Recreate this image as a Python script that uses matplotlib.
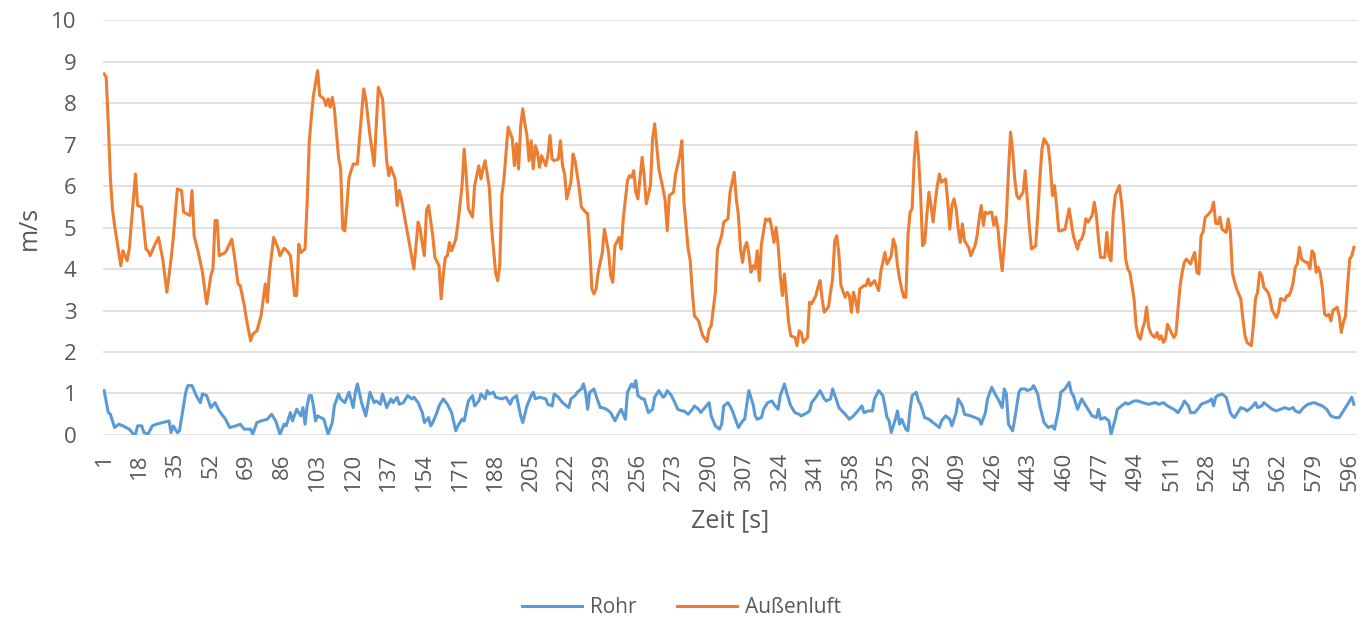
import matplotlib.pyplot as plt

# Zeitreihen (Zeit in s, Geschwindigkeit in m/s)
rohr_t = [1, 3, 4, 6, 8, 10, 13, 15, 16, 17, 19, 20, 22, 24, 26, 29, 32, 33, 34, 36, 37, 40, 41, 43, 45, 47, 48, 50,
          52, 54, 56, 59, 61, 64, 66, 68, 71, 72, 74, 76, 79, 81, 83, 85, 87, 88, 90, 91, 93, 95, 96, 97, 98, 99,
          100, 101, 102, 103, 106, 108, 110, 111, 113, 114, 116, 118, 120, 121, 122, 124, 126, 128, 130, 131, 133,
          134, 136, 138, 139, 141, 142, 144, 146, 148, 149, 151, 153, 154, 156, 157, 158, 160, 161, 163, 165, 167,
          169, 170, 172, 173, 175, 177, 178, 180, 181, 183, 184, 185, 187, 188, 191, 193, 195, 196, 198, 199, 200,
          201, 203, 205, 206, 207, 209, 212, 213, 215, 216, 218, 220, 221, 223, 224, 226, 227, 229, 230, 231, 232,
          233, 235, 236, 238, 239, 241, 243, 245, 247, 248, 250, 251, 253, 254, 255, 256, 258, 259, 261, 263, 264,
          266, 268, 269, 270, 272, 274, 275, 277, 278, 280, 282, 283, 285, 286, 288, 290, 291, 293, 295, 296, 297,
          299, 300, 301, 302, 304, 306, 307, 308, 309, 311, 312, 313, 315, 316, 318, 320, 321, 323, 324, 326, 327,
          329, 331, 333, 334, 337, 338, 339, 341, 343, 345, 346, 348, 349, 351, 352, 355, 357, 359, 361, 363, 364,
          366, 368, 369, 371, 373, 374, 375, 376, 377, 379, 380, 381, 382, 384, 385, 386, 387, 389, 390, 391, 393,
          395, 397, 398, 400, 401, 403, 405, 406, 408, 409, 411, 412, 415, 417, 419, 420, 422, 423, 425, 427, 428,
          430, 431, 432, 433, 435, 436, 438, 439, 441, 442, 444, 445, 447, 448, 450, 452, 454, 455, 457, 458, 460,
          462, 463, 464, 466, 468, 469, 471, 473, 475, 476, 477, 479, 481, 482, 484, 485, 487, 489, 490, 493, 495,
          497, 500, 503, 505, 507, 509, 512, 514, 516, 517, 519, 520, 522, 524, 525, 527, 529, 530, 531, 532, 533,
          535, 537, 538, 539, 540, 541, 543, 544, 546, 547, 549, 551, 552, 554, 555, 557, 559, 561, 563, 565, 567,
          569, 570, 572, 574, 576, 579, 581, 583, 585, 587, 589, 591, 593, 595, 597, 598]
rohr_v = [1.07, 0.54, 0.5, 0.18, 0.26, 0.22, 0.14, 0.02, 0.02, 0.22, 0.22, 0.06, 0.02, 0.22, 0.26, 0.30, 0.34, 0.06,
          0.22, 0.06, 0.10, 1.03, 1.19, 1.19, 0.95, 0.78, 0.99, 0.95, 0.66, 0.78, 0.58, 0.38, 0.18, 0.22, 0.26, 0.14,
          0.14, 0.02, 0.30, 0.34, 0.38, 0.50, 0.34, 0.02, 0.26, 0.22, 0.54, 0.34, 0.62, 0.46, 0.66, 0.26, 0.70, 0.95,
          0.95, 0.70, 0.34, 0.46, 0.38, 0.02, 0.30, 0.70, 0.99, 0.87, 0.78, 1.03, 0.66, 1.03, 1.23, 0.78, 0.46, 1.03,
          0.78, 0.82, 0.74, 0.99, 0.66, 0.87, 0.78, 0.91, 0.74, 0.78, 0.95, 0.87, 0.91, 0.78, 0.54, 0.30, 0.42, 0.22,
          0.30, 0.54, 0.70, 0.87, 0.74, 0.54, 0.10, 0.22, 0.38, 0.34, 0.82, 0.95, 0.70, 0.82, 0.99, 0.87, 1.07, 0.99,
          1.03, 0.91, 0.87, 0.91, 0.74, 0.87, 0.95, 0.70, 0.46, 0.30, 0.70, 0.95, 1.03, 0.87, 0.91, 0.87, 0.74, 0.70,
          0.99, 0.91, 0.78, 0.74, 0.66, 0.87, 0.95, 1.03, 1.11, 1.23, 1.03, 0.62, 1.03, 1.11, 0.95, 0.66, 0.66, 0.62,
          0.54, 0.34, 0.54, 0.62, 0.38, 1.03, 1.23, 1.15, 1.31, 0.95, 0.87, 0.87, 0.54, 0.62, 0.91, 1.07, 0.91, 0.95,
          1.07, 0.95, 0.74, 0.62, 0.58, 0.58, 0.50, 0.62, 0.70, 0.62, 0.54, 0.66, 0.78, 0.46, 0.22, 0.14, 0.26, 0.70,
          0.78, 0.70, 0.60, 0.46, 0.18, 0.34, 0.38, 0.74, 1.07, 0.74, 0.46, 0.38, 0.42, 0.62, 0.78, 0.82, 0.74, 0.62,
          0.95, 1.23, 1.03, 0.70, 0.54, 0.50, 0.46, 0.54, 0.58, 0.78, 0.91, 1.07, 0.87, 0.82, 0.87, 1.11, 0.82, 0.66,
          0.50, 0.38, 0.46, 0.58, 0.70, 0.54, 0.58, 0.58, 0.87, 1.07, 0.95, 0.70, 0.42, 0.34, 0.06, 0.38, 0.58, 0.26,
          0.38, 0.14, 0.10, 0.62, 0.95, 1.03, 0.82, 0.74, 0.42, 0.38, 0.30, 0.26, 0.18, 0.34, 0.46, 0.38, 0.22, 0.54,
          0.87, 0.70, 0.50, 0.46, 0.42, 0.38, 0.26, 0.54, 0.87, 1.15, 0.95, 0.87, 0.66, 1.11, 0.99, 0.26, 0.10, 0.38,
          1.03, 1.11, 1.11, 1.07, 1.11, 1.19, 0.99, 0.70, 0.30, 0.18, 0.22, 0.14, 0.62, 1.03, 1.11, 1.27, 1.03, 0.95,
          0.62, 0.87, 0.78, 0.62, 0.46, 0.42, 0.62, 0.38, 0.42, 0.34, 0.02, 0.38, 0.62, 0.70, 0.78, 0.74, 0.82, 0.82,
          0.78, 0.74, 0.78, 0.74, 0.78, 0.70, 0.62, 0.54, 0.70, 0.82, 0.70, 0.54, 0.54, 0.66, 0.74, 0.78, 0.82, 0.87,
          0.70, 0.91, 0.95, 0.99, 0.91, 0.74, 0.54, 0.46, 0.42, 0.58, 0.66, 0.62, 0.58, 0.66, 0.78, 0.66, 0.70, 0.78,
          0.70, 0.62, 0.58, 0.62, 0.66, 0.62, 0.66, 0.58, 0.54, 0.66, 0.74, 0.78, 0.74, 0.70, 0.62, 0.46, 0.42, 0.42,
          0.58, 0.74, 0.91, 0.74]

aussen_t = [1, 2, 3, 4, 5, 6, 9, 10, 12, 13, 16, 17, 19, 21, 22, 23, 25, 27, 29, 31, 33, 34, 36, 38, 39, 42, 43, 44,
            46, 48, 50, 52, 53, 54, 55, 56, 59, 62, 63, 65, 66, 68, 69, 71, 72, 74, 76, 78, 79, 80, 82, 84, 85, 87,
            89, 90, 92, 93, 94, 95, 97, 98, 99, 100, 101, 103, 104, 106, 107, 108, 109, 110, 111, 113, 114, 115, 116,
            118, 120, 122, 125, 126, 128, 130, 131, 132, 134, 136, 137, 138, 140, 141, 142, 143, 145, 147, 149, 151,
            152, 153, 154, 155, 156, 158, 159, 161, 162, 163, 164, 165, 166, 167, 169, 170, 172, 173, 174, 175, 177,
            178, 180, 181, 182, 183, 185, 186, 188, 189, 190, 191, 192, 194, 196, 197, 198, 199, 200, 201, 202, 203,
            204, 205, 206, 207, 208, 209, 210, 212, 213, 214, 215, 216, 218, 219, 220, 221, 222, 224, 225, 226, 228,
            229, 231, 232, 233, 234, 235, 236, 237, 239, 240, 242, 243, 244, 245, 247, 248, 249, 251, 252, 253, 254,
            255, 256, 258, 259, 260, 262, 263, 264, 265, 266, 268, 269, 270, 271, 273, 274, 276, 277, 278, 280, 281,
            282, 283, 285, 286, 287, 289, 290, 291, 293, 294, 296, 297, 299, 300, 302, 303, 304, 305, 306, 307, 308,
            309, 310, 311, 312, 313, 314, 315, 317, 318, 319, 320, 321, 322, 323, 324, 325, 326, 327, 328, 329, 331,
            332, 333, 334, 335, 337, 338, 339, 341, 342, 343, 344, 345, 347, 348, 349, 350, 351, 352, 353, 355, 356,
            357, 358, 359, 360, 361, 362, 364, 365, 366, 367, 369, 370, 371, 372, 373, 374, 375, 377, 378, 379, 380,
            381, 382, 383, 384, 385, 386, 387, 388, 389, 390, 391, 392, 393, 394, 395, 396, 397, 398, 399, 400, 401,
            402, 403, 404, 405, 406, 407, 408, 409, 410, 411, 412, 414, 415, 417, 418, 419, 420, 421, 422, 423, 424,
            425, 426, 427, 428, 429, 430, 432, 433, 434, 435, 436, 437, 438, 440, 441, 442, 443, 444, 446, 447, 448,
            449, 450, 452, 453, 454, 455, 456, 457, 458, 460, 462, 463, 464, 466, 467, 468, 469, 470, 471, 473, 474,
            475, 476, 477, 479, 480, 481, 482, 483, 484, 486, 487, 488, 489, 490, 491, 493, 494, 495, 496, 497, 498,
            499, 500, 501, 502, 503, 504, 505, 506, 507, 508, 509, 510, 512, 513, 514, 515, 516, 517, 518, 520, 521,
            522, 523, 524, 525, 526, 527, 528, 530, 531, 532, 533, 534, 535, 537, 538, 539, 540, 541, 542, 544, 545,
            546, 547, 549, 550, 551, 552, 553, 554, 555, 557, 558, 559, 561, 562, 563, 565, 566, 567, 568, 569, 570,
            571, 572, 573, 575, 576, 577, 578, 579, 580, 581, 582, 583, 584, 585, 586, 587, 588, 590, 591, 592, 593,
            594, 595, 596, 597, 598]
aussen_v = [8.70, 8.62, 7.5, 6.2, 5.45, 5.05, 4.08, 4.44, 4.2, 4.48, 6.29, 5.53, 5.49, 4.48, 4.44, 4.32, 4.56, 4.76,
            4.24, 3.44, 4.24, 4.72, 5.93, 5.89, 5.37, 5.29, 5.89, 4.80, 4.40, 3.92, 3.16, 3.84, 4.0, 5.17, 5.17, 4.32,
            4.40, 4.72, 4.40, 3.64, 3.60, 3.12, 2.79, 2.27, 2.43, 2.51, 2.88, 3.64, 3.20, 3.92, 4.76, 4.52, 4.32, 4.50,
            4.40, 4.32, 3.36, 3.36, 4.60, 4.40, 4.48, 5.6, 7.05, 7.66, 8.18, 8.78, 8.18, 8.1, 7.94, 8.1, 7.9, 8.14,
            7.86, 6.69, 6.41, 4.96, 4.92, 6.2, 6.53, 6.53, 8.34, 8.1, 7.22, 6.49, 7.46, 8.38, 8.10, 6.6, 6.25, 6.45,
            6.17, 5.53, 5.89, 5.69, 5.13, 4.56, 4.0, 5.13, 4.96, 4.6, 4.32, 5.41, 5.53, 4.8, 4.28, 4.08, 3.28, 3.84,
            4.28, 4.32, 4.64, 4.44, 4.72, 5.09, 6.01, 6.89, 6.25, 5.45, 5.25, 6.01, 6.49, 6.17, 6.41, 6.61, 5.97, 5.05,
            3.92, 3.72, 4.08, 5.77, 6.17, 7.42, 7.14, 6.49, 7.02, 6.41, 7.46, 7.86, 7.5, 7.22, 6.61, 7.09, 6.41, 6.97,
            6.81, 6.45, 6.73, 6.49, 6.73, 7.22, 6.65, 6.61, 6.65, 7.09, 6.49, 6.29, 5.69, 6.09, 6.77, 6.61, 5.93, 5.49,
            5.37, 5.33, 4.56, 3.52, 3.40, 3.52, 3.92, 4.40, 4.96, 4.40, 3.84, 3.68, 4.56, 4.76, 4.48, 5.21, 6.13, 6.25,
            6.21, 6.37, 5.85, 5.69, 6.69, 6.25, 5.57, 6.01, 7.14, 7.50, 6.97, 6.41, 5.93, 5.65, 4.92, 5.77, 5.85, 6.29,
            6.73, 7.09, 5.61, 4.48, 4.20, 3.44, 2.87, 2.75, 2.55, 2.39, 2.25, 2.55, 2.63, 3.44, 4.48, 4.80, 5.13, 5.21,
            5.85, 6.33, 5.69, 5.29, 4.48, 4.16, 4.52, 4.64, 4.36, 3.92, 4.08, 4.0, 4.44, 3.72, 4.60, 5.21, 5.17, 5.21,
            4.96, 4.64, 5.0, 4.56, 3.84, 3.36, 3.88, 3.28, 2.71, 2.39, 2.35, 2.15, 2.51, 2.47, 2.23, 2.35, 3.20, 3.16,
            3.36, 3.56, 3.72, 3.28, 2.96, 3.08, 3.44, 3.76, 4.68, 4.80, 4.36, 3.60, 3.32, 3.44, 3.36, 2.96, 3.44, 3.24,
            2.96, 3.52, 3.60, 3.60, 3.76, 3.60, 3.72, 3.60, 3.48, 3.92, 4.16, 4.40, 4.12, 4.32, 4.72, 4.56, 4.08, 3.76,
            3.52, 3.32, 3.32, 4.80, 5.37, 5.45, 6.65, 7.30, 6.73, 5.85, 4.56, 4.64, 5.29, 5.85, 5.53, 5.13, 5.61, 6.0,
            6.29, 6.09, 6.13, 6.17, 5.61, 4.96, 5.53, 5.69, 5.45, 4.96, 4.64, 5.09, 4.68, 4.52, 4.32, 4.56, 4.80, 5.21,
            5.53, 5.05, 5.37, 5.33, 5.37, 5.37, 5.05, 5.25, 4.96, 4.40, 3.96, 5.21, 6.33, 7.30, 6.85, 6.17, 5.77, 5.69,
            5.85, 6.37, 5.69, 5.0, 4.48, 4.56, 5.29, 6.17, 6.89, 7.14, 6.97, 6.49, 5.77, 6.01, 5.53, 4.92, 4.92, 4.96,
            5.45, 5.13, 4.80, 4.48, 4.68, 4.72, 4.88, 5.21, 5.13, 5.29, 5.61, 5.29, 4.72, 4.28, 4.28, 4.88, 4.32, 4.20,
            5.29, 5.77, 6.01, 5.61, 5.05, 4.24, 4.0, 3.92, 3.28, 2.63, 2.39, 2.31, 2.55, 2.71, 3.08, 2.6, 2.45, 2.39,
            2.35, 2.47, 2.31, 2.39, 2.23, 2.31, 2.67, 2.55, 2.35, 2.43, 3.04, 3.60, 3.92, 4.16, 4.24, 4.12, 4.28, 4.40,
            3.92, 3.88, 4.8, 4.9, 5.25, 5.29, 5.41, 5.61, 5.1, 5.09, 5.25, 4.96, 4.88, 5.21, 4.9, 3.9, 3.7, 3.52, 3.28,
            2.79, 2.39, 2.23, 2.15, 2.63, 3.28, 3.44, 3.92, 3.84, 3.56, 3.44, 3.28, 3.0, 2.83, 2.96, 3.29, 3.24, 3.36,
            3.36, 3.48, 3.68, 4.04, 4.12, 4.52, 4.24, 4.16, 4.16, 4.0, 4.44, 4.36, 3.92, 4.04, 3.88, 3.52, 2.91, 2.87,
            2.91, 2.75, 3.0, 3.08, 2.87, 2.47, 2.71, 2.87, 3.6, 4.24, 4.32, 4.52]

x_ticks = list(range(1, 600, 17))
y_ticks = list(range(0, 11))

TEXT_COLOR = "#595959"
plt.rcParams['font.family'] = ['Open Sans', 'DejaVu Sans']

fig = plt.figure(figsize=(13.63, 6.2), dpi=100)
ax = fig.add_axes([0.0756, 0.2984, 0.92, 0.6693])

ax.plot(rohr_t, rohr_v, color="#5B9BD5", lw=2.2, label="Rohr")
ax.plot(aussen_t, aussen_v, color="#ED7D31", lw=2.2, label="Außenluft")

ax.set_xlim(0.5, 599.5)
ax.set_ylim(0, 10)
ax.set_xticks(x_ticks)
ax.set_xticklabels([str(t) for t in x_ticks], rotation=90, fontsize=16, color=TEXT_COLOR)
ax.set_yticks(y_ticks)
ax.set_yticklabels([str(t) for t in y_ticks], fontsize=16, color=TEXT_COLOR)
ax.tick_params(axis="both", length=0)
ax.tick_params(axis="x", pad=13)
ax.tick_params(axis="y", pad=19)

ax.grid(axis="y", color="#D9D9D9", lw=1.1)
ax.set_axisbelow(True)
for s in ax.spines.values():
    s.set_visible(False)

ax.set_xlabel("Zeit [s]", fontsize=18, color=TEXT_COLOR, labelpad=12)
ax.set_ylabel("m/s", fontsize=18, color=TEXT_COLOR, labelpad=7)

fig.legend(loc="center", bbox_to_anchor=(0.5, 0.02), ncol=2, frameon=False,
           fontsize=15, labelcolor=TEXT_COLOR, handlelength=2.9, handletextpad=0.4,
           columnspacing=1.9)

fig.savefig("out.png", dpi=100)
